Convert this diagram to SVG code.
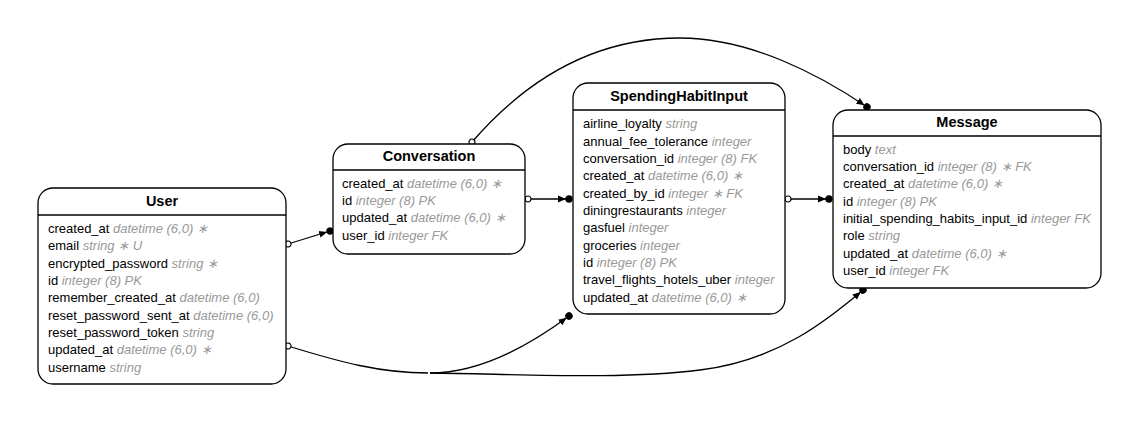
<svg xmlns="http://www.w3.org/2000/svg" width="1139" height="424" viewBox="0 0 1139 424">
<style>
.box{fill:#fff;stroke:#000;stroke-width:1.3}
.sep{stroke:#000;stroke-width:1.3}
.title{font-family:"Liberation Sans",Arial,sans-serif;font-size:14.5px;font-weight:bold;text-anchor:middle;fill:#000}
.row{font-family:"Liberation Sans",Arial,sans-serif;font-size:13px;fill:#000}
.t{fill:#999;font-style:italic}
.edge{fill:none;stroke:#000;stroke-width:1.3}
</style>
<defs>
<marker id="head" viewBox="0 -5 15 10" refX="11" refY="0" markerWidth="15" markerHeight="10" markerUnits="userSpaceOnUse" orient="auto">
<path d="M0,-3.5 L8,0 L0,3.5 Z" fill="#000"/>
<circle cx="11" cy="0" r="3.7" fill="#000"/>
</marker>
<marker id="tail" viewBox="-5 -5 10 10" refX="0" refY="0" markerWidth="10" markerHeight="10" markerUnits="userSpaceOnUse" orient="auto">
<circle cx="0" cy="0" r="3" fill="#fff" stroke="#000" stroke-width="1.2"/>
</marker>
</defs>
<rect width="1139" height="424" fill="#fff"/>
<g id="connectors">
<path class="edge" d="M288,244 L330,231" marker-start="url(#tail)" marker-end="url(#head)"/>
<path class="edge" d="M528,199 L569,199" marker-start="url(#tail)" marker-end="url(#head)"/>
<path class="edge" d="M788,199 L829,199" marker-start="url(#tail)" marker-end="url(#head)"/>
<path class="edge" d="M472,142 C530,75 600,38 680,38 C750,38 820,75 867,107" marker-start="url(#tail)" marker-end="url(#head)"/>
<path class="edge" d="M288,346 C340,362 380,373 428,373" marker-start="url(#tail)"/>
<path class="edge" d="M430,373 C480,373 530,345 569,316" marker-end="url(#head)"/>
<path class="edge" d="M430,373 C520,374 620,380 700,370 C780,360 830,318 863,290" marker-end="url(#head)"/>
</g>
<g id="User">
<rect class="box" x="38" y="188" width="248" height="196" rx="15"/>
<line class="sep" x1="38" y1="215" x2="286" y2="215"/>
<text class="title" x="162" y="206">User</text>
<text class="row" x="48" y="233">created_at <tspan class="t">datetime (6,0) ∗</tspan></text>
<text class="row" x="48" y="250">email <tspan class="t">string ∗ U</tspan></text>
<text class="row" x="48" y="268">encrypted_password <tspan class="t">string ∗</tspan></text>
<text class="row" x="48" y="285">id <tspan class="t">integer (8) PK</tspan></text>
<text class="row" x="48" y="302">remember_created_at <tspan class="t">datetime (6,0)</tspan></text>
<text class="row" x="48" y="320">reset_password_sent_at <tspan class="t">datetime (6,0)</tspan></text>
<text class="row" x="48" y="337">reset_password_token <tspan class="t">string</tspan></text>
<text class="row" x="48" y="354">updated_at <tspan class="t">datetime (6,0) ∗</tspan></text>
<text class="row" x="48" y="372">username <tspan class="t">string</tspan></text>
</g>
<g id="Conversation">
<rect class="box" x="333" y="144" width="192" height="110" rx="15"/>
<line class="sep" x1="333" y1="170" x2="525" y2="170"/>
<text class="title" x="429" y="161">Conversation</text>
<text class="row" x="342" y="188">created_at <tspan class="t">datetime (6,0) ∗</tspan></text>
<text class="row" x="342" y="205">id <tspan class="t">integer (8) PK</tspan></text>
<text class="row" x="342" y="222">updated_at <tspan class="t">datetime (6,0) ∗</tspan></text>
<text class="row" x="342" y="240">user_id <tspan class="t">integer FK</tspan></text>
</g>
<g id="SpendingHabitInput">
<rect class="box" x="573" y="83" width="212" height="231" rx="15"/>
<line class="sep" x1="573" y1="110" x2="785" y2="110"/>
<text class="title" x="679" y="101">SpendingHabitInput</text>
<text class="row" x="583" y="128">airline_loyalty <tspan class="t">string</tspan></text>
<text class="row" x="583" y="146">annual_fee_tolerance <tspan class="t">integer</tspan></text>
<text class="row" x="583" y="163">conversation_id <tspan class="t">integer (8) FK</tspan></text>
<text class="row" x="583" y="180">created_at <tspan class="t">datetime (6,0) ∗</tspan></text>
<text class="row" x="583" y="198">created_by_id <tspan class="t">integer ∗ FK</tspan></text>
<text class="row" x="583" y="215">diningrestaurants <tspan class="t">integer</tspan></text>
<text class="row" x="583" y="232">gasfuel <tspan class="t">integer</tspan></text>
<text class="row" x="583" y="250">groceries <tspan class="t">integer</tspan></text>
<text class="row" x="583" y="267">id <tspan class="t">integer (8) PK</tspan></text>
<text class="row" x="583" y="284">travel_flights_hotels_uber <tspan class="t">integer</tspan></text>
<text class="row" x="583" y="302">updated_at <tspan class="t">datetime (6,0) ∗</tspan></text>
</g>
<g id="Message">
<rect class="box" x="833" y="110" width="268" height="178" rx="15"/>
<line class="sep" x1="833" y1="136" x2="1101" y2="136"/>
<text class="title" x="967" y="127">Message</text>
<text class="row" x="843" y="154">body <tspan class="t">text</tspan></text>
<text class="row" x="843" y="171">conversation_id <tspan class="t">integer (8) ∗ FK</tspan></text>
<text class="row" x="843" y="188">created_at <tspan class="t">datetime (6,0) ∗</tspan></text>
<text class="row" x="843" y="206">id <tspan class="t">integer (8) PK</tspan></text>
<text class="row" x="843" y="223">initial_spending_habits_input_id <tspan class="t">integer FK</tspan></text>
<text class="row" x="843" y="240">role <tspan class="t">string</tspan></text>
<text class="row" x="843" y="258">updated_at <tspan class="t">datetime (6,0) ∗</tspan></text>
<text class="row" x="843" y="275">user_id <tspan class="t">integer FK</tspan></text>
</g>
</svg>
